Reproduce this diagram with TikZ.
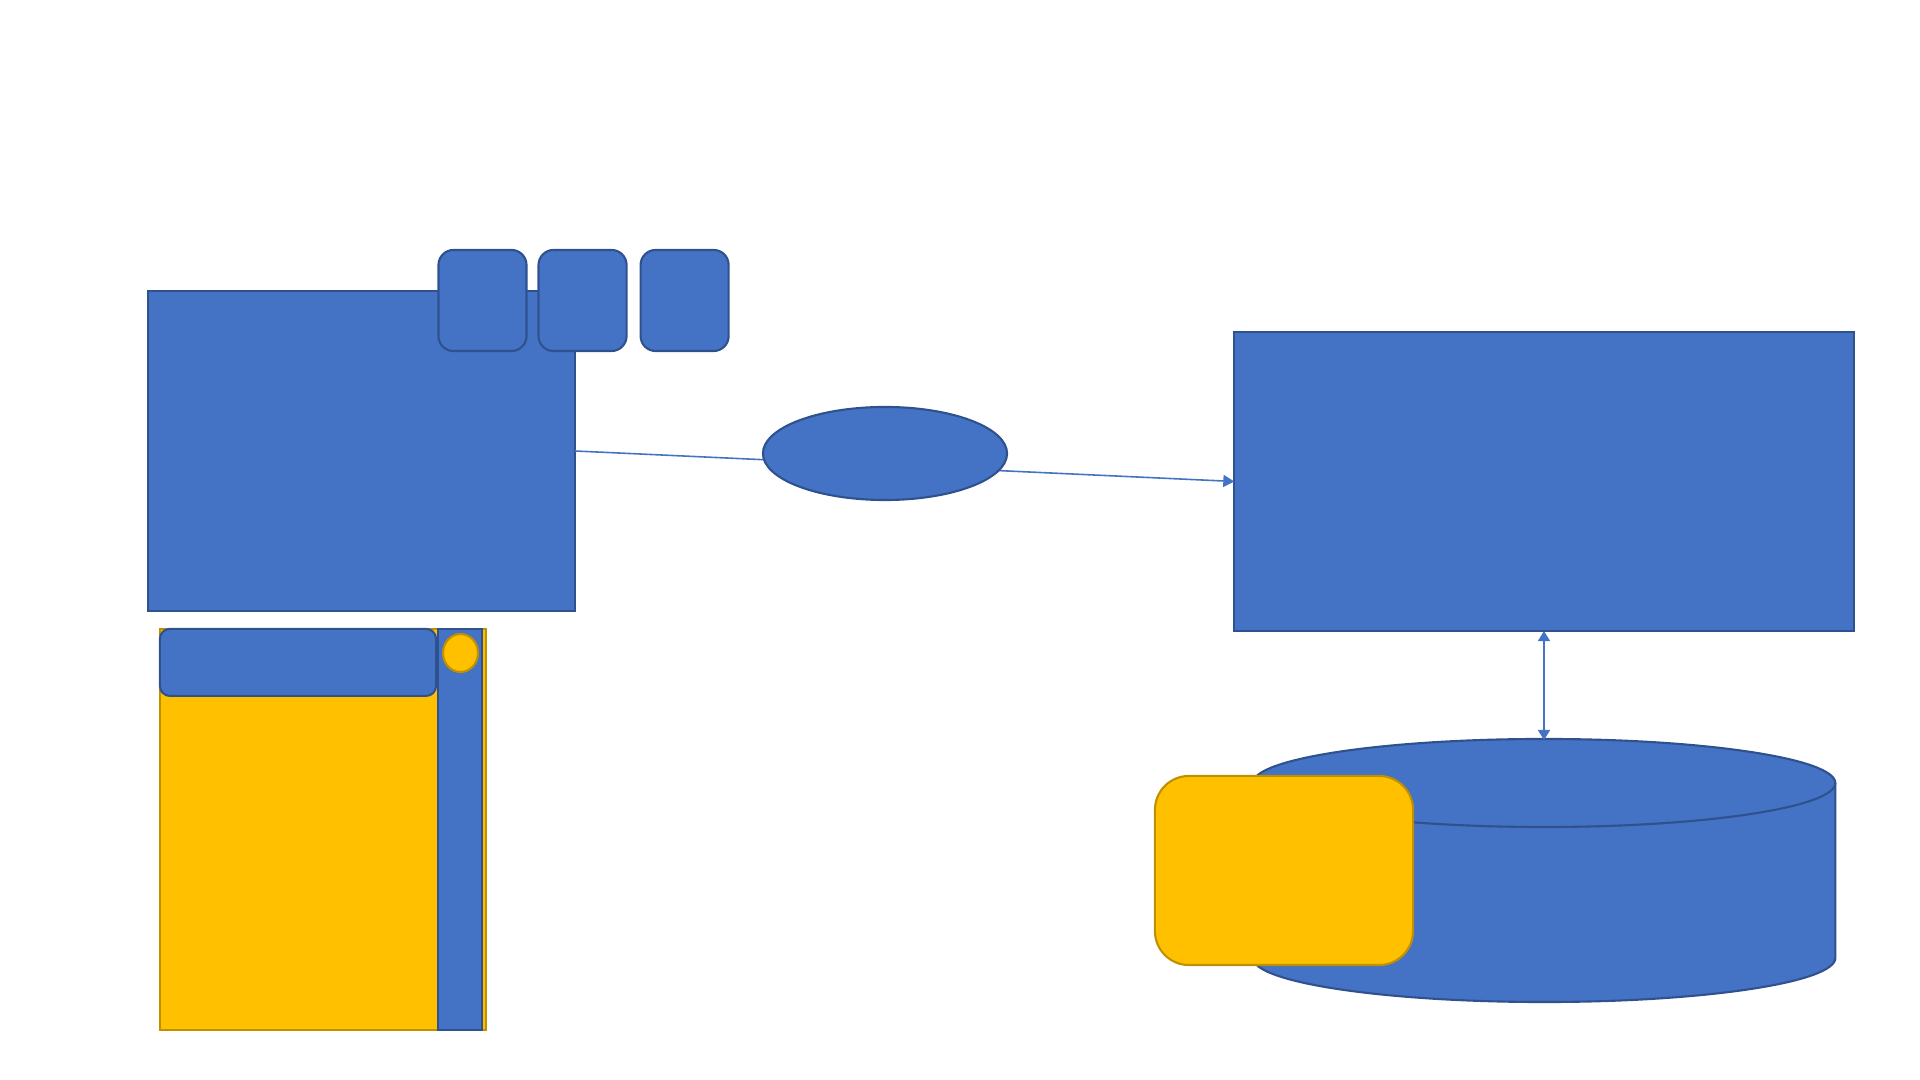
\documentclass[tikz,border=0pt]{standalone}
\usepackage{tikz}
\usetikzlibrary{arrows.meta,positioning,shapes.geometric}
\definecolor{blu}{HTML}{4472C4}
\definecolor{bluedge}{HTML}{2F528F}
\definecolor{yel}{HTML}{FFC000}
\definecolor{yeledge}{HTML}{BF9000}
\tikzset{
	blk/.style={draw=bluedge,fill=blu,line width=.6pt,inner sep=0pt,outer sep=0pt},
	ylw/.style={draw=yeledge,fill=yel,line width=.6pt,inner sep=0pt,outer sep=0pt},
	tab/.style={blk,rounded corners=.15cm,minimum width=.88cm,minimum height=1.01cm},
	ar/.style={draw=blu,line width=.45pt,-{Triangle[length=1.1mm,width=1.2mm]}},
	dar/.style={ar,{Triangle[length=1mm,width=1.2mm]}-{Triangle[length=1mm,width=1.2mm]}}
}

\begin{document}
\begin{tikzpicture}[x=0.01cm,y=-0.01cm]
	\useasboundingbox (0,0) rectangle (1920,1080);
	% left block with its three tabs
	\node[blk,minimum width=4.27cm,minimum height=3.2cm] (A) at (361.5,451) {};
	\node[tab] (T1) at (482.5,300.5) {};
	\node[tab,right=.12cm of T1] (T2) {};
	\node[tab,right=.14cm of T2] (T3) {};
	% right block
	\node[blk,minimum width=6.19cm,minimum height=2.99cm] (B) at (1544,481.5) {};
	\draw[ar] (A.east) -- (B.west);
	\node[blk,ellipse,minimum width=2.44cm,minimum height=.93cm] (E) at (885,453.5) {};
	% store
	\coordinate (C) at (1544,783);
	\coordinate (Ctop) at (1544,740);
	\draw[blk] (C) ++(-291,0) -- ++(0,175)
		arc[start angle=180,end angle=360,x radius=2.91cm,y radius=.44cm]
		-- ++(0,-175)
		arc[start angle=0,end angle=180,x radius=2.91cm,y radius=.44cm] -- cycle;
	\draw[draw=bluedge,line width=.6pt] (C) ++(-291,0)
		arc[start angle=180,end angle=360,x radius=2.91cm,y radius=.44cm];
	\draw[dar] (B.south) -- (Ctop);
	\node[ylw,rounded corners=.34cm,minimum width=2.58cm,minimum height=1.89cm] (Y) at (1284,870.5) {};
	% bottom left panel
	\node[ylw,minimum width=3.26cm,minimum height=4.01cm] (P) at (323,829.5) {};
	\node[blk,minimum width=.44cm,minimum height=4.01cm] (S) at (460,829.5) {};
	\node[blk,rounded corners=.1cm,minimum width=2.76cm,minimum height=.67cm,anchor=north west] (H) at (P.north west) {};
	\node[ylw,ellipse,minimum width=.35cm,minimum height=.38cm] (D) at (460.5,653) {};
\end{tikzpicture}
\end{document}
